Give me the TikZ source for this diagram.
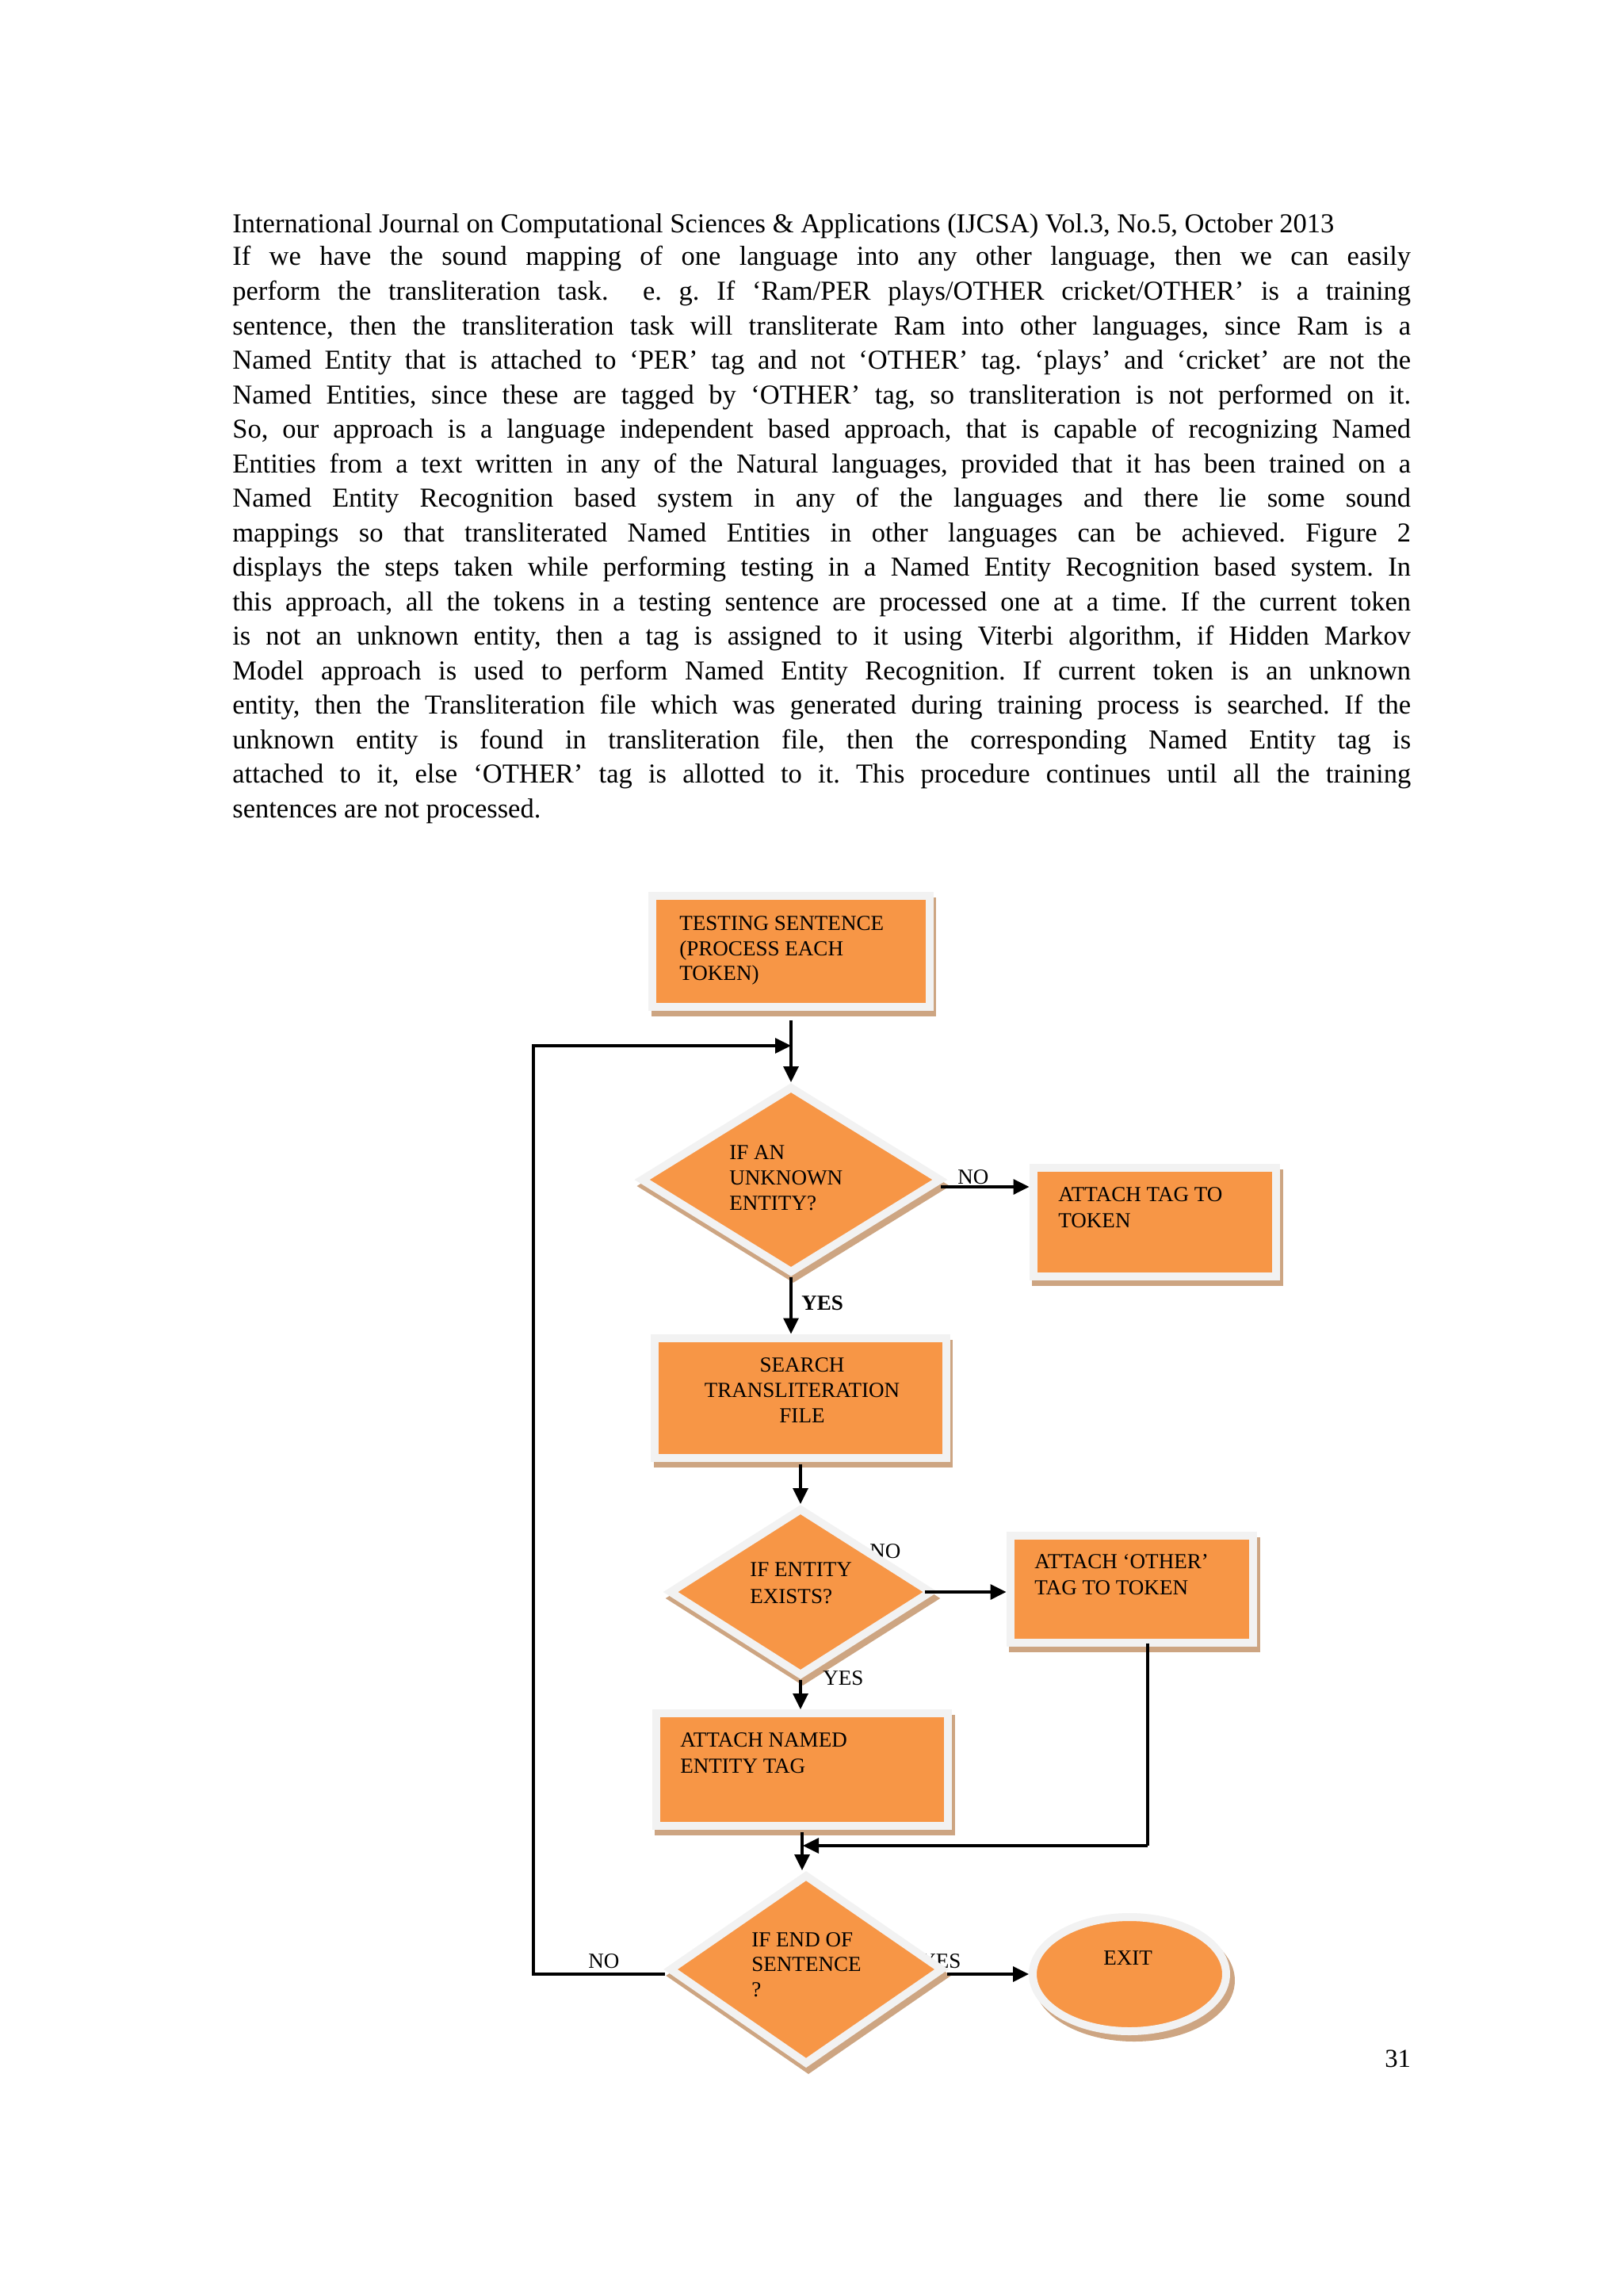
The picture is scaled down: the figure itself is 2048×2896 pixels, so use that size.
\documentclass[tikz,border=0pt]{standalone}
\usepackage{fontspec}
\setmainfont{Liberation Serif}
\usetikzlibrary{arrows.meta,shapes.geometric}
\definecolor{orng}{HTML}{F79646}
\definecolor{framec}{HTML}{F2F2F2}
\definecolor{shadc}{RGB}{205,165,130}
\newcommand{\bodyfont}{\fontsize{19.64pt}{22pt}\selectfont\frenchspacing}
\newcommand{\pgfont}{\fontsize{18.6pt}{22pt}\selectfont}
\newcommand{\boxfont}{\fontsize{15.4pt}{18.4pt}\selectfont}
\newcommand{\jl}[1]{\makebox[29.74cm][s]{#1}}
\begin{document}
\begin{tikzpicture}[x=0.02cm,y=-0.02cm,
  bline/.style={inner sep=0pt, anchor=base west, font=\bodyfont},
  lab/.style={inner sep=0pt, anchor=base west, font=\boxfont},
  pbox/.style={rectangle, fill=orng, draw=framec, line width=0.2cm, inner sep=0pt,
    preaction={fill=shadc, draw=shadc, line width=0.2cm, transform canvas={shift={(0.07cm,-0.14cm)}}}},
  pdia/.style={diamond, fill=orng, draw=framec, line width=0.2cm, inner sep=0pt,
    preaction={fill=shadc, draw=shadc, line width=0.2cm, transform canvas={shift={(0.06cm,-0.16cm)}}}},
  pell/.style={ellipse, fill=orng, draw=framec, line width=0.2cm, inner sep=0pt,
    preaction={fill=shadc, draw=shadc, line width=0.2cm, transform canvas={shift={(0.12cm,-0.16cm)}}}},
  arr/.style={line width=0.066cm, -{Triangle[length=0.4cm,width=0.38cm]}},
  conn/.style={line width=0.066cm}
]
\fill[white] (0,0) rectangle (2048,2896);
\useasboundingbox (0,0) rectangle (2048,2896);

% header and body text
\node[bline] (hdr) at (293,294) {International Journal on Computational Sciences \& Applications (IJCSA) Vol.3, No.5, October 2013};
\node[bline] (l1) at (293,335) {\jl{If we have the sound mapping of one language into any other language, then we can easily}};
\node[bline] (l2) at (293,378.5) {\jl{perform the transliteration task.\ \ e. g. If ‘Ram/PER plays/OTHER cricket/OTHER’ is a training}};
\node[bline] (l3) at (293,422) {\jl{sentence, then the transliteration task will transliterate Ram into other languages, since Ram is a}};
\node[bline] (l4) at (293,465.5) {\jl{Named Entity that is attached to ‘PER’ tag and not ‘OTHER’ tag. ‘plays’ and ‘cricket’ are not the}};
\node[bline] (l5) at (293,509) {\jl{Named Entities, since these are tagged by ‘OTHER’ tag, so transliteration is not performed on it.}};
\node[bline] (l6) at (293,552.5) {\jl{So, our approach is a language independent based approach, that is capable of recognizing Named}};
\node[bline] (l7) at (293,596) {\jl{Entities from a text written in any of the Natural languages, provided that it has been trained on a}};
\node[bline] (l8) at (293,639.5) {\jl{Named Entity Recognition based system in any of the languages and there lie some sound}};
\node[bline] (l9) at (293,683) {\jl{mappings so that transliterated Named Entities in other languages can be achieved. Figure 2}};
\node[bline] (l10) at (293,726.5) {\jl{displays the steps taken while performing testing in a Named Entity Recognition based system. In}};
\node[bline] (l11) at (293,770) {\jl{this approach, all the tokens in a testing sentence are processed one at a time. If the current token}};
\node[bline] (l12) at (293,813.5) {\jl{is not an unknown entity, then a tag is assigned to it using Viterbi algorithm, if Hidden Markov}};
\node[bline] (l13) at (293,857) {\jl{Model approach is used to perform Named Entity Recognition. If current token is an unknown}};
\node[bline] (l14) at (293,900.5) {\jl{entity, then the Transliteration file which was generated during training process is searched. If the}};
\node[bline] (l15) at (293,944) {\jl{unknown entity is found in transliteration file, then the corresponding Named Entity tag is}};
\node[bline] (l16) at (293,987.5) {\jl{attached to it, else ‘OTHER’ tag is allotted to it. This procedure continues until all the training}};
\node[bline] (l17) at (293,1031) {sentences are not processed.};
\node[bline, font=\pgfont] (pg) at (1747,2607) {31};

% labels partly hidden behind shapes
\node[lab] (no2) at (1097,1965) {NO};
\node[lab] (yes3) at (1161,2482) {YES};

% shapes
\node[pbox, minimum width=7cm, minimum height=2.8cm] (b1) at (998,1200) {};
\node[pdia, minimum width=7.6cm, minimum height=4.72cm] (d1) at (998,1488) {};
\node[pbox, minimum width=6.14cm, minimum height=2.74cm] (b2) at (1457,1541) {};
\node[pbox, minimum width=7.36cm, minimum height=3.02cm] (b3) at (1010,1763) {};
\node[pdia, minimum width=6.64cm, minimum height=4.24cm] (d2) at (1010,2008) {};
\node[pbox, minimum width=6.14cm, minimum height=2.7cm] (b4) at (1428,2004) {};
\node[pbox, minimum width=7.38cm, minimum height=2.84cm] (b5) at (1012,2232) {};
\node[pdia, minimum width=6.92cm, minimum height=4.8cm] (d3) at (1017,2484) {};
\node[pell, minimum width=4.88cm, minimum height=2.88cm] (ex) at (1425,2490) {};

% helper coordinates
\coordinate (lc) at (673,1319);
\coordinate (j1) at (998,1319);
\coordinate (j2) at (1013,2328);
\coordinate (rc) at (1448,2328);

% connectors
\draw[arr, shorten <=0.24cm] (b1.south) -- (d1.north);
\draw[arr] ([yshift=-0.12cm]d3.west) -| (lc) -- (j1);
\draw[arr] ([xshift=-0.12cm,yshift=-0.18cm]d1.east) -- ([yshift=-0.18cm]d1.east -| b2.west);
\draw[arr] (d1.south) -- (d1.south |- b3.north);
\draw[arr, shorten <=0.06cm] (b3.south) -- (d2.north);
\draw[arr] ([xshift=-0.28cm]d2.east) -- (d2.east -| b4.west);
\draw[arr] (d2.south) -- (d2.south |- b5.north);
\draw[arr, shorten <=0.06cm] (b5.south) -- (b5.south |- d3.north);
\draw[conn] (b4.south -| rc) ++(0,-4) -- (rc);
\draw[arr] (rc) -- (j2);
\draw[arr] ([yshift=-0.12cm]d3.east) -- ([yshift=-0.12cm]d3.east -| ex.west);

% texts in shapes
\node[lab] (t1) at (857,1173) {\parbox[t]{8cm}{\raggedright\boxfont\baselineskip=0.64cm TESTING SENTENCE\\(PROCESS EACH\\TOKEN)}};
\node[lab] (td1) at (920,1462) {\parbox[t]{6cm}{\raggedright\boxfont\baselineskip=0.64cm IF AN\\UNKNOWN\\ENTITY?}};
\node[lab] (t2) at (1335,1515) {\parbox[t]{6cm}{\raggedright\boxfont\baselineskip=0.66cm ATTACH TAG TO\\TOKEN}};
\node[lab, anchor=base] (t3) at (1012,1730) {\parbox[t]{8cm}{\centering\boxfont\baselineskip=0.64cm SEARCH\\TRANSLITERATION\\FILE}};
\node[lab] (td2) at (946,1988) {\parbox[t]{6cm}{\raggedright\boxfont\baselineskip=0.68cm IF ENTITY\\EXISTS?}};
\node[lab] (t4) at (1305,1978) {\parbox[t]{6cm}{\raggedright\boxfont\baselineskip=0.66cm ATTACH ‘OTHER’\\TAG TO TOKEN}};
\node[lab] (t5) at (858,2203) {\parbox[t]{6cm}{\raggedright\boxfont\baselineskip=0.66cm ATTACH NAMED\\ENTITY TAG}};
\node[lab] (td3) at (948,2455) {\parbox[t]{6cm}{\raggedright\boxfont\baselineskip=0.63cm IF END OF\\SENTENCE\\?}};
\node[lab] (tex) at (1392,2478) {EXIT};

% connector labels
\node[lab] (no1) at (1208,1493) {NO};
\node[lab, font=\boxfont\bfseries] (yes1) at (1011,1652) {YES};
\node[lab] (yes2) at (1038,2125) {YES};
\node[lab] (no3) at (742,2482) {NO};
\end{tikzpicture}
\end{document}
